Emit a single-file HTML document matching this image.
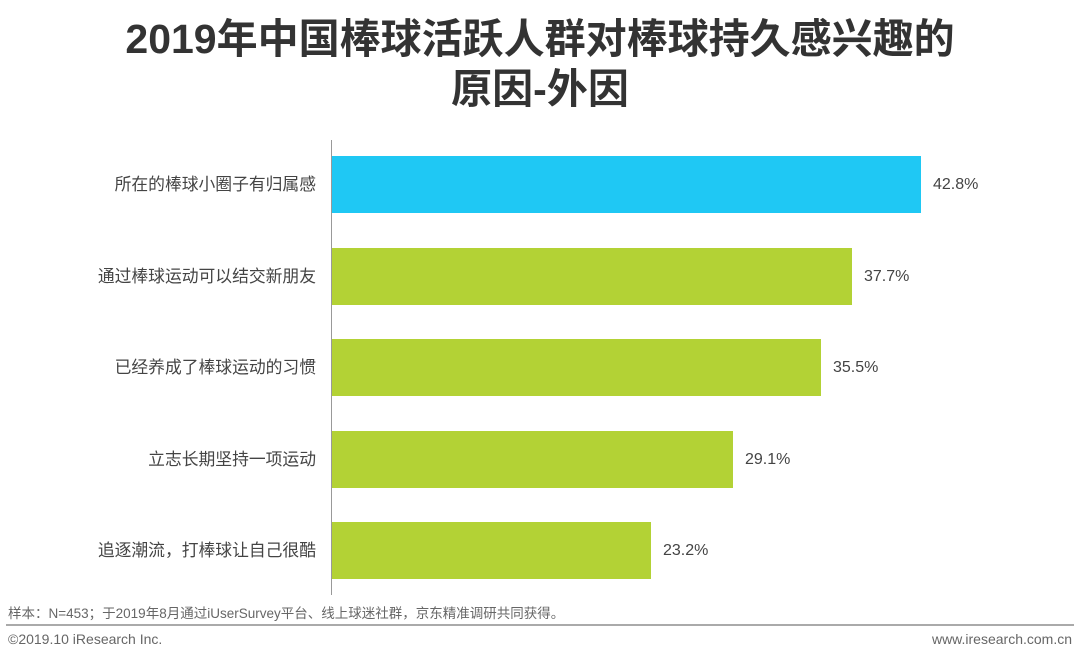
<!DOCTYPE html>
<html><head><meta charset="utf-8"><style>
body{margin:0;width:1080px;height:662px;background:#fff;position:relative;overflow:hidden;font-family:"Liberation Sans","Noto Sans CJK SC",sans-serif;color:#444}
.t{position:absolute;left:0;width:1080px;text-align:center;font-size:41px;font-weight:bold;color:#333;line-height:50px}
.bar{position:absolute;left:332px;height:57px}
.lab{position:absolute;right:764px;font-size:16.8px;color:#444;line-height:20px;white-space:nowrap}
.v{position:absolute;font-size:16px;color:#444;line-height:20px}
</style></head><body>
<div class="t" style="top:14px">2019年中国棒球活跃人群对棒球持久感兴趣的</div>
<div class="t" style="top:64px">原因-外因</div>
<div style="position:absolute;left:331px;top:140px;width:1px;height:455px;background:#999"></div>
<div class="bar" style="top:156px;width:589px;background:#1fc8f4"></div>
<div class="bar" style="top:248px;width:520px;background:#b3d235"></div>
<div class="bar" style="top:339px;width:489px;background:#b3d235"></div>
<div class="bar" style="top:431px;width:401px;background:#b3d235"></div>
<div class="bar" style="top:522px;width:319px;background:#b3d235"></div>
<div class="lab" style="top:175px">所在的棒球小圈子有归属感</div>
<div class="lab" style="top:267px">通过棒球运动可以结交新朋友</div>
<div class="lab" style="top:358px">已经养成了棒球运动的习惯</div>
<div class="lab" style="top:450px">立志长期坚持一项运动</div>
<div class="lab" style="top:541px">追逐潮流，打棒球让自己很酷</div>
<div class="v" style="top:175px;left:933px">42.8%</div>
<div class="v" style="top:267px;left:864px">37.7%</div>
<div class="v" style="top:358px;left:833px">35.5%</div>
<div class="v" style="top:450px;left:745px">29.1%</div>
<div class="v" style="top:541px;left:663px">23.2%</div>
<div style="position:absolute;left:8px;top:602px;font-size:13.5px;color:#666">样本：N=453；于2019年8月通过iUserSurvey平台、线上球迷社群，京东精准调研共同获得。</div>
<div style="position:absolute;left:6px;top:624px;width:1068px;height:2px;background:#aaa"></div>
<div style="position:absolute;left:8px;top:631px;font-size:14px;color:#666">©2019.10 iResearch Inc.</div>
<div style="position:absolute;right:8px;top:631px;font-size:14px;color:#666">www.iresearch.com.cn</div>
</body></html>
